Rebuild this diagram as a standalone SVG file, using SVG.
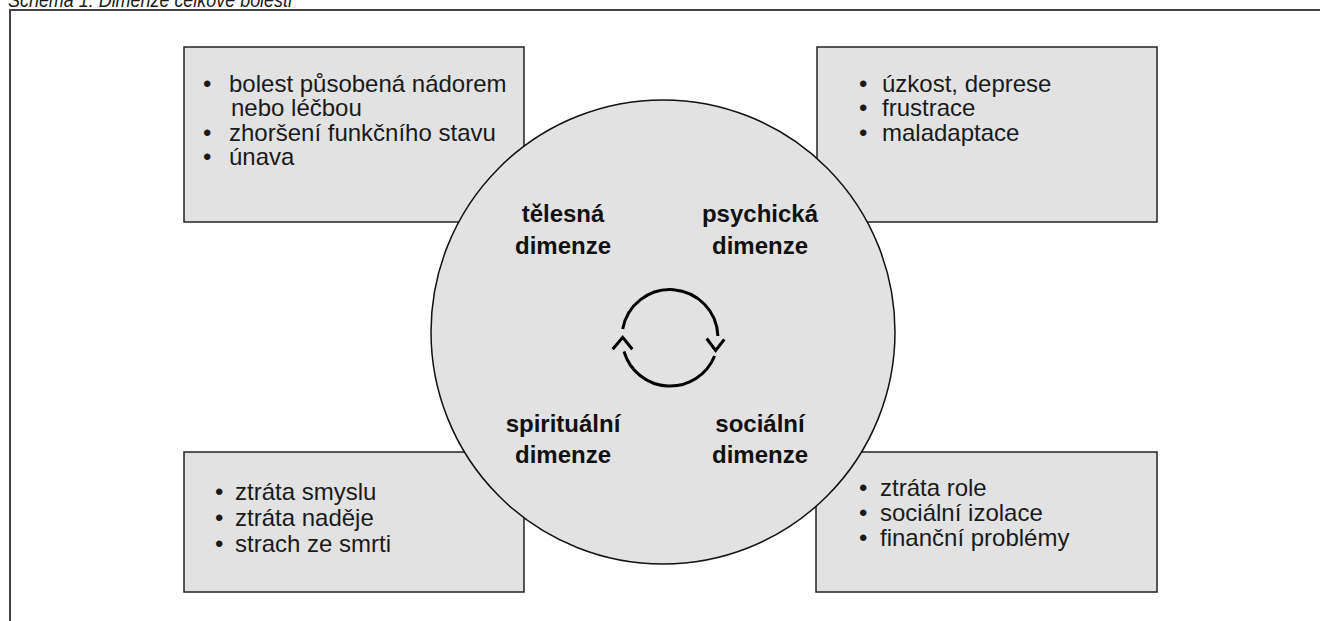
<svg xmlns="http://www.w3.org/2000/svg" width="1320" height="621" viewBox="0 0 1320 621">
<style>
  .box { fill: #e2e2e2; stroke: #222; stroke-width: 1.5; }
  .circ { fill: #e2e2e2; stroke: #111; stroke-width: 1.5; }
  .txt { font-family: "Liberation Sans", Arial, sans-serif; font-size: 24px; fill: #1a1a1a; }
  .lbl { font-family: "Liberation Sans", Arial, sans-serif; font-size: 24px; font-weight: bold; fill: #111; text-anchor: middle; }
  .cap { font-family: "Liberation Sans", Arial, sans-serif; font-size: 21px; font-style: italic; fill: #1a1a1a; }
  .cyc { fill: none; stroke: #000; stroke-width: 3; }
</style>
<rect width="1320" height="621" fill="#fff"/>
<text class="cap" x="8" y="7" textLength="284" lengthAdjust="spacingAndGlyphs">Schéma 1: Dimenze celkové bolesti</text>
<path d="M10 621 V10 H1320" fill="none" stroke="#444" stroke-width="2"/>

<g id="box-telesna">
  <rect class="box" x="184" y="47" width="340" height="175"/>
  <text class="txt"><tspan x="203" y="91.5">•</tspan><tspan x="229" y="91.5">bolest působená nádorem</tspan><tspan x="231" y="116">nebo léčbou</tspan><tspan x="203" y="140.5">•</tspan><tspan x="229" y="140.5">zhoršení funkčního stavu</tspan><tspan x="203" y="165">•</tspan><tspan x="229" y="165">únava</tspan></text>
</g>
<g id="box-psychicka">
  <rect class="box" x="817" y="47" width="340" height="175"/>
  <text class="txt"><tspan x="859" y="91.5">•</tspan><tspan x="882" y="91.5">úzkost, deprese</tspan><tspan x="859" y="116">•</tspan><tspan x="882" y="116">frustrace</tspan><tspan x="859" y="140.5">•</tspan><tspan x="882" y="140.5">maladaptace</tspan></text>
</g>
<g id="box-spiritualni">
  <rect class="box" x="184" y="452" width="340" height="140"/>
  <text class="txt"><tspan x="215" y="500">•</tspan><tspan x="235" y="500">ztráta smyslu</tspan><tspan x="215" y="526">•</tspan><tspan x="235" y="526">ztráta naděje</tspan><tspan x="215" y="552">•</tspan><tspan x="235" y="552">strach ze smrti</tspan></text>
</g>
<g id="box-socialni">
  <rect class="box" x="816" y="452" width="341" height="140"/>
  <text class="txt"><tspan x="859" y="496">•</tspan><tspan x="880" y="496">ztráta role</tspan><tspan x="859" y="521">•</tspan><tspan x="880" y="521">sociální izolace</tspan><tspan x="859" y="546">•</tspan><tspan x="880" y="546">finanční problémy</tspan></text>
</g>

<g id="circle">
  <circle class="circ" cx="663" cy="332" r="232"/>
  <text class="lbl"><tspan x="563" y="222">tělesná</tspan><tspan x="563" y="254">dimenze</tspan></text>
  <text class="lbl"><tspan x="760" y="222">psychická</tspan><tspan x="760" y="254">dimenze</tspan></text>
  <text class="lbl"><tspan x="563" y="432">spirituální</tspan><tspan x="563" y="463">dimenze</tspan></text>
  <text class="lbl"><tspan x="760" y="432">sociální</tspan><tspan x="760" y="463">dimenze</tspan></text>
</g>

<g id="connectors">
  <path class="cyc" d="M622.7 329 A48 48 0 0 1 717.9 336"/>
  <path class="cyc" d="M706.7 338.5 L715.6 350.5 L724.3 339.3"/>
  <path class="cyc" d="M714.6 356 A48 48 0 0 1 624 351.5"/>
  <path class="cyc" d="M612.7 349.3 L622.7 337.3 L632.3 349.3"/>
</g>
</svg>
